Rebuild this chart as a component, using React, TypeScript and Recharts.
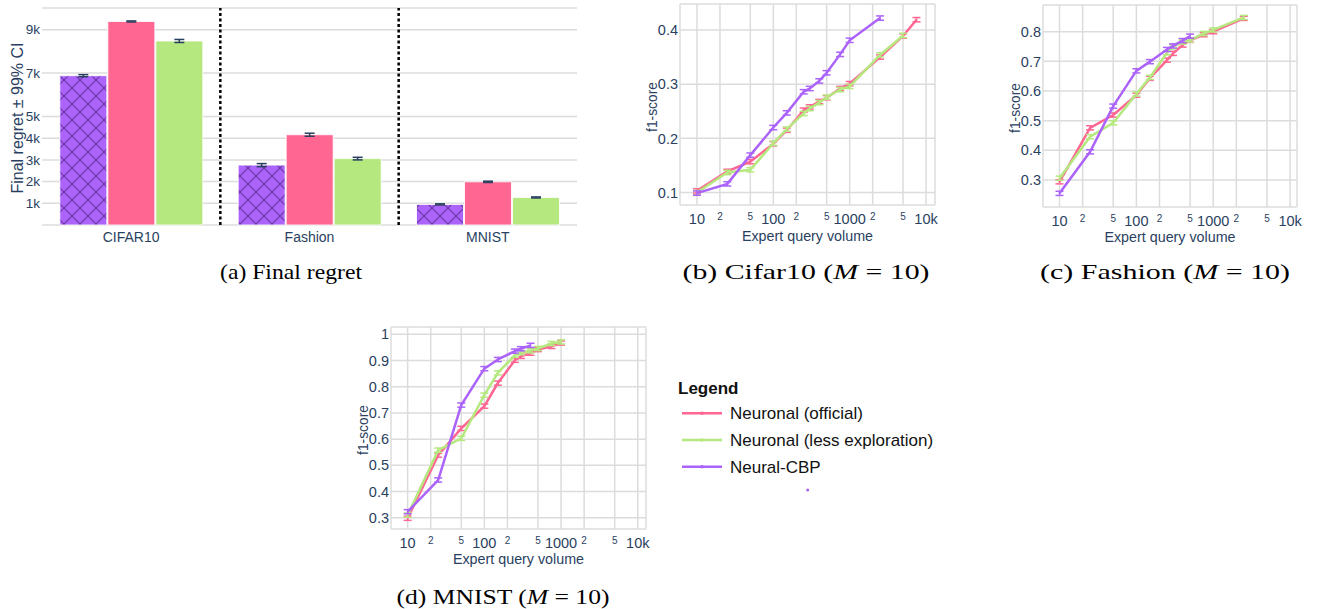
import React from 'react';
import {
  BarChart, Bar, LineChart, Line, XAxis, YAxis, CartesianGrid, ErrorBar, ReferenceLine, Legend,
} from 'recharts';

const TEXT = '#2a3f5f';
const GRID = '#dcdcdc';
const PINK = '#FF6692';
const GREEN = '#B6E880';
const PURPLE = '#AB63FA';
const SANS = '"Liberation Sans", Arial, sans-serif';
const SERIF = '"Liberation Serif", "Times New Roman", serif';

// (a) final regret per dataset
const datasets = ['CIFAR10', 'Fashion', 'MNIST'];
const regretCbp = [6880, 2760, 950];
const regretOfficial = [9380, 4160, 1990];
const regretLessExpl = [8480, 3060, 1270];
const ciCbp = [50, 70, 25];
const ciOfficial = [25, 70, 30];
const ciLessExpl = [70, 60, 25];
const regretTicks = [1000, 2000, 3000, 4000, 5000, 7000, 9000];

// expert query volume (x) for the f1 curves
const queryVolumes = [10, 25, 50, 100, 150, 250, 300, 400, 500, 750, 1000, 2500, 5000, 7500];
const logTicks = [10, 20, 50, 100, 200, 500, 1000, 2000, 5000, 10000];

// (b) Cifar10
const cifarOfficial = [0.103, 0.139, 0.157, 0.19, 0.215, 0.252, 0.258, 0.268, 0.275, 0.292, 0.301, 0.35, 0.389, 0.419];
const cifarLessExpl = [0.1, 0.137, 0.142, 0.191, 0.217, 0.246, 0.255, 0.266, 0.276, 0.29, 0.296, 0.354, 0.39, null];
const cifarCbp = [0.099, 0.116, 0.169, 0.22, 0.247, 0.286, 0.292, 0.306, 0.321, 0.355, 0.381, 0.422, null, null];
const cifarCi = 0.004;
const cifarTicks = [0.1, 0.2, 0.3, 0.4];

// (c) Fashion
const fashionOfficial = [0.294, 0.476, 0.519, 0.586, 0.643, 0.704, 0.727, 0.755, 0.771, 0.79, 0.8, 0.845, null, null];
const fashionLessExpl = [0.306, 0.446, 0.493, 0.59, 0.646, 0.729, 0.749, 0.765, 0.772, 0.794, 0.806, 0.848, null, null];
const fashionCbp = [0.255, 0.395, 0.549, 0.668, 0.699, 0.74, 0.752, 0.77, 0.785, null, null, null, null, null];
const fashionCi = 0.007;
const fashionTicks = [0.3, 0.4, 0.5, 0.6, 0.7, 0.8];

// (d) MNIST
const mnistOfficial = [0.298, 0.539, 0.641, 0.726, 0.814, 0.901, 0.916, 0.928, 0.942, 0.954, 0.967, null, null, null];
const mnistLessExpl = [0.31, 0.558, 0.603, 0.768, 0.853, 0.92, 0.93, 0.937, 0.946, 0.965, 0.971, null, null, null];
const mnistCbp = [0.323, 0.444, 0.73, 0.869, 0.904, 0.936, 0.945, 0.958, null, null, null, null, null, null];
const mnistCi = 0.008;
const mnistTicks = [0.3, 0.4, 0.5, 0.6, 0.7, 0.8, 0.9, 1];

const legendItems = [
  { name: 'Neuronal (official)', color: PINK },
  { name: 'Neuronal (less exploration)', color: GREEN },
  { name: 'Neural-CBP', color: PURPLE },
];

const regretRows = datasets.map((name, i) => ({
  name,
  cbp: regretCbp[i], official: regretOfficial[i], less: regretLessExpl[i],
  cbpCi: ciCbp[i], officialCi: ciOfficial[i], lessCi: ciLessExpl[i],
}));

const buildRows = (official: (number | null)[], less: (number | null)[], cbp: (number | null)[], ci: number) =>
  queryVolumes.map((q, i) => ({
    q,
    official: official[i],
    less: less[i],
    cbp: cbp[i],
    officialCi: official[i] == null ? null : ci,
    lessCi: less[i] == null ? null : ci,
    cbpCi: cbp[i] == null ? null : ci,
  }));

const LogTick = (props: any) => {
  const { x, y, payload } = props;
  const v = payload.value;
  const big: Record<number, string> = { 10: '10', 100: '100', 1000: '1000', 10000: '10k' };
  if (big[v]) {
    return <text x={x} y={y + 19} textAnchor="middle" fontSize={14.5} fill={TEXT} fontFamily={SANS}>{big[v]}</text>;
  }
  return <text x={x} y={y + 15} textAnchor="middle" fontSize={10} fill={TEXT} fontFamily={SANS}>{String(v)[0]}</text>;
};

const CategoryTick = (props: any) => {
  const { x, y, payload } = props;
  return <text x={x} y={y + 17} textAnchor="middle" fontSize={14} fill={TEXT} fontFamily={SANS}>{payload.value}</text>;
};

const LegendBox = () => (
  <svg width={280} height={125} style={{ display: 'block', overflow: 'visible' }}>
    <text x={0} y={16} fontFamily={SANS} fontSize={17} fontWeight="bold" fill="#111">Legend</text>
    {legendItems.map((it, i) => {
      const y = 35.3 + i * 26.7;
      return (
        <g key={it.name}>
          <line x1={4} x2={44} y1={y} y2={y} stroke={it.color} strokeWidth={2.5} />
          <circle cx={24} cy={y} r={1.8} fill={it.color} />
          <text x={52} y={y + 6} fontFamily={SANS} fontSize={17} fill="#111">{it.name}</text>
        </g>
      );
    })}
    <circle cx={129.7} cy={112} r={1.5} fill={PURPLE} />
  </svg>
);

type F1Props = {
  left: number; top: number; width: number; height: number;
  margin: { top: number; right: number; bottom: number; left: number };
  yAxisWidth: number;
  xDomain: [number, number];
  yDomain: [number, number];
  yTicks: number[];
  rows: any[];
  withLegend?: boolean;
};

const F1Chart = ({ left, top, width, height, margin, yAxisWidth, xDomain, yDomain, yTicks, rows, withLegend }: F1Props) => (
  <div style={{ position: 'absolute', left, top }}>
    <LineChart width={width} height={height} data={rows} margin={margin}>
      <CartesianGrid stroke={GRID} strokeWidth={1.5} />
      <XAxis
        dataKey="q" type="number" scale="log" domain={xDomain} ticks={logTicks} allowDataOverflow
        axisLine={false} tickLine={false} tickSize={0} tickMargin={0} height={30} interval={0}
        tick={<LogTick />}
      />
      <YAxis
        type="number" domain={yDomain} ticks={yTicks} allowDataOverflow width={yAxisWidth}
        axisLine={false} tickLine={false} tickSize={0} tickMargin={2} interval={0}
        tick={{ fontSize: 14.5, fill: TEXT, fontFamily: SANS }}
        tickFormatter={(v: number) => (v === 1 ? '1' : v.toFixed(1))}
      />
      <Line dataKey="official" name="Neuronal (official)" stroke={PINK} strokeWidth={2.5} dot={false} isAnimationActive={false}>
        <ErrorBar dataKey="officialCi" direction="y" width={4} stroke={PINK} strokeWidth={1.5} />
      </Line>
      <Line dataKey="less" name="Neuronal (less exploration)" stroke={GREEN} strokeWidth={2.5} dot={false} isAnimationActive={false}>
        <ErrorBar dataKey="lessCi" direction="y" width={4} stroke={GREEN} strokeWidth={1.5} />
      </Line>
      <Line dataKey="cbp" name="Neural-CBP" stroke={PURPLE} strokeWidth={2.5} dot={false} isAnimationActive={false}>
        <ErrorBar dataKey="cbpCi" direction="y" width={4} stroke={PURPLE} strokeWidth={1.5} />
      </Line>
      {withLegend && (
        <Legend
          layout="vertical" align="center" verticalAlign="middle"
          wrapperStyle={{ position: 'absolute', left: 338, top: 58, width: 280, height: 125 }}
          content={() => <LegendBox />}
        />
      )}
    </LineChart>
  </div>
);

const App = () => {
  return (
    <div style={{ position: 'absolute', left: 0, top: 0, width: 1317, height: 609, background: '#fff', overflow: 'hidden' }}>
      {/* (a) final regret bars */}
      <div style={{ position: 'absolute', left: 0, top: 0 }}>
        <BarChart width={590} height={250} data={regretRows} margin={{ top: 8, right: 13, bottom: 5, left: 0 }} barCategoryGap="10%" barGap={1}>
          <defs>
            <pattern id="cbpHatch" patternUnits="userSpaceOnUse" width={16} height={16}>
              <rect width={16} height={16} fill={PURPLE} />
              <path d="M0,0 L16,16 M16,0 L0,16" stroke="#4e2280" strokeWidth={1.2} strokeOpacity={0.7} />
            </pattern>
          </defs>
          <CartesianGrid stroke={GRID} strokeWidth={1.5} vertical={false} />
          <XAxis dataKey="name" axisLine={false} tickLine={false} tickSize={0} tickMargin={0} height={20} tick={<CategoryTick />} />
          <YAxis
            type="number" domain={[0, 10000]} ticks={regretTicks} width={42} interval={0}
            axisLine={false} tickLine={false} tickSize={0} tickMargin={2}
            tick={{ fontSize: 13.5, fill: TEXT, fontFamily: SANS }}
            tickFormatter={(v: number) => `${v / 1000}k`}
          />
          <Bar dataKey="cbp" fill="url(#cbpHatch)" stroke="rgba(255,255,255,0.85)" strokeWidth={1} isAnimationActive={false}>
            <ErrorBar dataKey="cbpCi" width={5} stroke={TEXT} strokeWidth={1.5} />
          </Bar>
          <Bar dataKey="official" fill={PINK} stroke="rgba(255,255,255,0.85)" strokeWidth={1} isAnimationActive={false}>
            <ErrorBar dataKey="officialCi" width={5} stroke={TEXT} strokeWidth={1.5} />
          </Bar>
          <Bar dataKey="less" fill={GREEN} stroke="rgba(255,255,255,0.85)" strokeWidth={1} isAnimationActive={false}>
            <ErrorBar dataKey="lessCi" width={5} stroke={TEXT} strokeWidth={1.5} />
          </Bar>
          <ReferenceLine x="Fashion" position="start" stroke="#000" strokeWidth={2.5} strokeDasharray="3 2.5" />
          <ReferenceLine x="MNIST" position="start" stroke="#000" strokeWidth={2.5} strokeDasharray="3 2.5" />
        </BarChart>
      </div>

      {/* (b) Cifar10 */}
      <F1Chart
        left={640} top={0} width={300} height={250}
        margin={{ top: 4, right: 5, bottom: 15, left: 0 }} yAxisWidth={40}
        xDomain={[6, 13100]} yDomain={[0.077, 0.448]} yTicks={cifarTicks}
        rows={buildRows(cifarOfficial, cifarLessExpl, cifarCbp, cifarCi)}
      />

      {/* (c) Fashion */}
      <F1Chart
        left={960} top={0} width={350} height={250}
        margin={{ top: 5, right: 13, bottom: 13, left: 0 }} yAxisWidth={83}
        xDomain={[6.1, 12300]} yDomain={[0.209, 0.89]} yTicks={fashionTicks}
        rows={buildRows(fashionOfficial, fashionLessExpl, fashionCbp, fashionCi)}
      />

      {/* (d) MNIST + legend */}
      <F1Chart
        left={340} top={320} width={620} height={260}
        margin={{ top: 7, right: 314, bottom: 21, left: 0 }} yAxisWidth={51}
        xDomain={[6.07, 12800]} yDomain={[0.257, 1.028]} yTicks={mnistTicks}
        rows={buildRows(mnistOfficial, mnistLessExpl, mnistCbp, mnistCi)}
        withLegend
      />

      {/* axis titles and captions */}
      <svg width={1317} height={609} style={{ position: 'absolute', left: 0, top: 0, pointerEvents: 'none' }}>
        <g fontFamily={SANS} fill={TEXT}>
          <text transform="translate(17,118) rotate(-90)" textAnchor="middle" dominantBaseline="central" fontSize={16}>Final regret ± 99% CI</text>
          <text transform="translate(652,107) rotate(-90)" textAnchor="middle" dominantBaseline="central" fontSize={13.8}>f1-score</text>
          <text transform="translate(1015,108) rotate(-90)" textAnchor="middle" dominantBaseline="central" fontSize={13.8}>f1-score</text>
          <text transform="translate(363,430) rotate(-90)" textAnchor="middle" dominantBaseline="central" fontSize={13.8}>f1-score</text>
          <text x={807.5} y={241} textAnchor="middle" fontSize={14.3}>Expert query volume</text>
          <text x={1170} y={242} textAnchor="middle" fontSize={14.3}>Expert query volume</text>
          <text x={518.5} y={564} textAnchor="middle" fontSize={14.3}>Expert query volume</text>
        </g>
        <g fontFamily={SERIF} fill="#000" fontSize={22}>
          <text x={291} y={279} textAnchor="middle" textLength={142} lengthAdjust="spacingAndGlyphs">(a) Final regret</text>
          <text x={806} y={279} textAnchor="middle" textLength={247} lengthAdjust="spacingAndGlyphs">(b) Cifar10 (<tspan fontStyle="italic">M</tspan> = 10)</text>
          <text x={1165} y={279} textAnchor="middle" textLength={250} lengthAdjust="spacingAndGlyphs">(c) Fashion (<tspan fontStyle="italic">M</tspan> = 10)</text>
          <text x={503} y={604} textAnchor="middle" textLength={213} lengthAdjust="spacingAndGlyphs">(d) MNIST (<tspan fontStyle="italic">M</tspan> = 10)</text>
        </g>
      </svg>
    </div>
  );
};

export default App;
